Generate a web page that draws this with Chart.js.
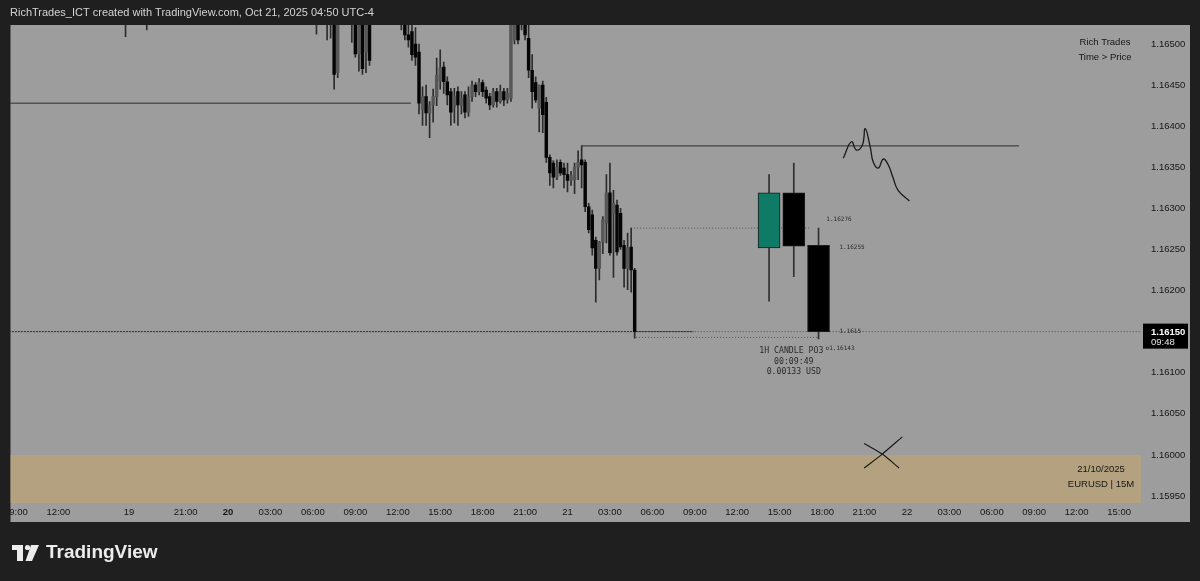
<!DOCTYPE html>
<html><head><meta charset="utf-8">
<script src="https://cdn.jsdelivr.net/npm/chart.js@4.4.1/dist/chart.umd.min.js"></script>
<style>html,body{margin:0;padding:0;background:#1f1f1f;overflow:hidden}canvas{display:block}</style>
</head><body>
<canvas id="c" width="1200" height="581"></canvas>
<script>
// ---- 15-minute EURUSD candles (bar index: 0 = Mon 20 Oct 00:00) ----
const barIdx = [-29,-23,25,28,29,30,31,35,36,37,38,39,40,49,50,51,52,53,54,55,56,57,58,59,60,61,62,63,64,65,66,67,68,69,70,71,72,73,74,75,76,77,78,79,80,81,82,83,84,85,86,87,88,89,90,91,92,93,94,95,96,97,98,99,100,101,102,103,104,105,106,107,108,109,110,111,112,113,114,115];
const opens  = [1.16560,1.16545,1.16560,1.16560,1.16540,1.16540,1.16465,1.16540,1.16530,1.16488,1.16525,1.16490,1.16530,1.16545,1.16530,1.16511,1.16515,1.16500,1.16490,1.16420,1.16436,1.16416,1.16426,1.16436,1.16455,1.16472,1.16454,1.16442,1.16423,1.16442,1.16426,1.16438,1.16417,1.16436,1.16450,1.16442,1.16453,1.16444,1.16436,1.16426,1.16442,1.16430,1.16442,1.16432,1.16434,1.16505,1.16540,1.16530,1.16545,1.16507,1.16468,1.16453,1.16422,1.16450,1.16429,1.16362,1.16355,1.16338,1.16356,1.16349,1.16341,1.16334,1.16335,1.16350,1.16359,1.16356,1.16302,1.16292,1.16261,1.16227,1.16259,1.16282,1.16319,1.16294,1.16304,1.16294,1.16255,1.16227,1.16253,1.16225];
const highs  = [1.16580,1.16570,1.16590,1.16580,1.16560,1.16550,1.16545,1.16560,1.16545,1.16535,1.16540,1.16545,1.16540,1.16560,1.16545,1.16530,1.16535,1.16520,1.16500,1.16448,1.16450,1.16430,1.16445,1.16483,1.16493,1.16478,1.16460,1.16446,1.16446,1.16448,1.16442,1.16442,1.16448,1.16455,1.16453,1.16458,1.16456,1.16448,1.16440,1.16446,1.16446,1.16450,1.16446,1.16446,1.16540,1.16560,1.16560,1.16550,1.16560,1.16525,1.16487,1.16460,1.16450,1.16455,1.16435,1.16365,1.16358,1.16359,1.16359,1.16355,1.16355,1.16345,1.16355,1.16370,1.16376,1.16359,1.16306,1.16298,1.16265,1.16260,1.16290,1.16341,1.16355,1.16322,1.16310,1.16300,1.16261,1.16270,1.16276,1.16227];
const lows   = [1.16509,1.16517,1.16512,1.16505,1.16507,1.16445,1.16459,1.16502,1.16484,1.16467,1.16463,1.16465,1.16474,1.16517,1.16505,1.16496,1.16480,1.16474,1.16415,1.16401,1.16401,1.16386,1.16405,1.16425,1.16445,1.16440,1.16426,1.16401,1.16404,1.16401,1.16415,1.16410,1.16412,1.16430,1.16436,1.16438,1.16436,1.16428,1.16420,1.16423,1.16423,1.16428,1.16425,1.16428,1.16430,1.16500,1.16500,1.16517,1.16505,1.16459,1.16422,1.16429,1.16393,1.16392,1.16356,1.16328,1.16325,1.16335,1.16340,1.16325,1.16320,1.16328,1.16318,1.16335,1.16325,1.16296,1.16270,1.16243,1.16186,1.16213,1.16245,1.16258,1.16243,1.16216,1.16243,1.16250,1.16204,1.16201,1.16198,1.16142];
const closes = [1.16545,1.16555,1.16545,1.16540,1.16530,1.16463,1.16530,1.16530,1.16488,1.16525,1.16470,1.16530,1.16480,1.16530,1.16511,1.16505,1.16487,1.16484,1.16428,1.16436,1.16416,1.16426,1.16436,1.16462,1.16471,1.16454,1.16438,1.16417,1.16436,1.16426,1.16434,1.16417,1.16436,1.16450,1.16442,1.16453,1.16442,1.16434,1.16426,1.16442,1.16430,1.16442,1.16432,1.16440,1.16525,1.16540,1.16505,1.16540,1.16511,1.16468,1.16442,1.16432,1.16450,1.16414,1.16362,1.16343,1.16338,1.16350,1.16343,1.16341,1.16334,1.16340,1.16350,1.16356,1.16353,1.16302,1.16274,1.16252,1.16227,1.16259,1.16286,1.16319,1.16246,1.16306,1.16247,1.16253,1.16227,1.16252,1.16225,1.16150];

// ---- drawn 1H "PO3" candles ----
const po3Idx   = [153,160,167];
const po3Open  = [1.16252,1.16319,1.16255];
const po3High  = [1.16341,1.16355,1.16276];
const po3Low   = [1.16187,1.16217,1.16141];
const po3Close = [1.16319,1.16254,1.16150];

// ---- axis ticks ----
const timeTickIdx = [-60,-48,-28,-12,0,12,24,36,48,60,72,84,96,108,120,132,144,156,168,180,192,204,216,228,240,252];
const timeTickLabels = ["09:00","12:00","19","21:00","20","03:00","06:00","09:00","12:00","15:00","18:00","21:00","21","03:00","06:00","09:00","12:00","15:00","18:00","21:00","22","03:00","06:00","09:00","12:00","15:00"];
const priceTicks = [1.1595,1.1600,1.1605,1.1610,1.1615,1.1620,1.1625,1.1630,1.1635,1.1640,1.1645,1.1650];

// ---- horizontal levels ----
const levelPrice = [1.16428, 1.16376, 1.16150, 1.16150, 1.16276, 1.16143];
const levelStart = [-62, 100, -62, 115, 114, 115.4];
const levelEnd   = [51.7, 223.7, 131.6, 259, 164.7, 167];

// ---- freehand projection curve ----
const curveIdx   = [174.0,176.3,177.7,179.4,180.2,181.6,182.5,183.9,185.3,186.7,188.1,189.5,192.7];
const curvePrice = [1.16361,1.16381,1.16371,1.16377,1.16397,1.16375,1.16356,1.16349,1.16360,1.16353,1.16337,1.16322,1.16309];

// ---- X mark ----
const crossAIdx = [179.9,185.0,189.8], crossAPrice = [1.16014,1.16001,1.15984];
const crossBIdx = [190.7,185.0,179.9], crossBPrice = [1.16022,1.16001,1.15984];

// ---- annotation texts ----
const annoText  = ["1.16276","1.16255","1.1615","o1.16143","1H CANDLE PO3","00:09:49","0.00133 USD"];
const annoIdx   = [169.2,172.9,172.9,169.0,159.3,160.0,160.0];
const annoPrice = [1.16287,1.16253,1.16150,1.16130,1.16126,1.16113,1.16101];
const annoAlign = ["left","left","left","left","center","center","center"];
const annoSize  = [6,6,6,6,8.2,8.2,8.2];

const bandTop = 1.16000;
const lastPrice = 1.16150;
const countdown = "09:48";
const xMin = -61.6, xMax = 258.2, yMin = 1.159415, yMax = 1.165231;

const OUTER = '#1f1f1f', PANE = '#9d9d9d', BAND = '#b4a180', TXT = '#161616';
const FONT = '"Liberation Sans", Arial, sans-serif';
const MONO = '"DejaVu Sans Mono", "Liberation Mono", monospace';

const wickData = barIdx.map((x,i)=>({x, y:[lows[i], highs[i]]}));
const bodyData = barIdx.map((x,i)=>({x, y:[Math.min(opens[i],closes[i]), Math.max(opens[i],closes[i])]}));
const bodyColors = barIdx.map((x,i)=> closes[i] >= opens[i] ? '#575757' : '#050505');
const po3Wick = po3Idx.map((x,i)=>({x, y:[po3Low[i], po3High[i]]}));
const po3Body = po3Idx.map((x,i)=>({x, y:[Math.min(po3Open[i],po3Close[i]), Math.max(po3Open[i],po3Close[i])]}));
const po3Colors = po3Idx.map((x,i)=> po3Close[i] >= po3Open[i] ? '#0f7a65' : '#000000');

const levelStyle = [
  {c:'#2e2e2e', d:[], w:1},
  {c:'#2e2e2e', d:[], w:1},
  {c:'#2a2a2a', d:[2,1], w:1},
  {c:'#4a4a4a', d:[1,2], w:1},
  {c:'#555555', d:[1,2], w:1},
  {c:'#555555', d:[1,2], w:1}
];
const levelSets = levelPrice.map((p,i)=>({
  type:'line', data:[{x:levelStart[i], y:p},{x:levelEnd[i], y:p}],
  borderColor: levelStyle[i].c, borderWidth: levelStyle[i].w, borderDash: levelStyle[i].d,
  pointRadius:0, order:5
}));

const overlay = {
  id:'overlay',
  beforeDraw(chart){
    const {ctx, chartArea:a, scales:{x, y}} = chart;
    ctx.save();
    ctx.fillStyle = OUTER; ctx.fillRect(0,0,chart.width,chart.height);
    ctx.fillStyle = PANE; ctx.fillRect(a.left, a.top, y.right - a.left, x.bottom - a.top);
    ctx.restore();
  },
  beforeDatasetsDraw(chart){
    const {ctx, chartArea:a, scales:{y}} = chart;
    const t = Math.round(y.getPixelForValue(bandTop));
    ctx.save();
    ctx.fillStyle = BAND; ctx.fillRect(a.left, t, a.right - a.left, a.bottom - t);
    ctx.restore();
  },
  afterDatasetsDraw(chart){
    const {ctx, chartArea:a, scales:{x, y}} = chart;
    ctx.save();
    ctx.fillStyle = '#2a2a2a'; ctx.textBaseline = 'middle';
    annoText.forEach((s,i)=>{
      ctx.font = annoSize[i] + 'px ' + MONO;
      ctx.textAlign = annoAlign[i];
      ctx.fillText(s, x.getPixelForValue(annoIdx[i]), y.getPixelForValue(annoPrice[i]));
    });
    ctx.fillStyle = TXT; ctx.textAlign = 'center';
    ctx.font = '9.5px ' + FONT;
    ctx.fillText('Rich Trades', a.right - 36, a.top + 17);
    ctx.fillText('Time > Price', a.right - 36, a.top + 32);
    const bb = a.bottom;
    ctx.fillText('21/10/2025', a.right - 40, bb - 34);
    ctx.fillText('EURUSD | 15M', a.right - 40, bb - 19);
    ctx.restore();
  },
  afterDraw(chart){
    const {ctx, chartArea:a, scales:{x, y}} = chart;
    ctx.save();
    ctx.fillStyle = OUTER;
    ctx.fillRect(0, a.top, a.left, x.bottom - a.top);
    // header
    ctx.fillStyle = '#d4d4d4'; ctx.font = '11px ' + FONT; ctx.textBaseline = 'middle'; ctx.textAlign = 'left';
    ctx.fillText('RichTrades_ICT created with TradingView.com, Oct 21, 2025 04:50 UTC-4', 10, 13);
    // price label on axis
    const py = y.getPixelForValue(lastPrice);
    ctx.fillStyle = '#000'; ctx.fillRect(y.left + 2, py - 8, y.right - y.left - 4, 25);
    ctx.fillStyle = '#ffffff'; ctx.font = 'bold 9.5px ' + FONT;
    ctx.fillText(lastPrice.toFixed(5), y.left + 10, py + 1);
    ctx.fillStyle = '#e6e6e6'; ctx.font = '9.5px ' + FONT;
    ctx.fillText(countdown, y.left + 10, py + 11);
    // TradingView logo
    ctx.fillStyle = '#ececec';
    ctx.fillRect(12, 545, 11, 5);
    ctx.fillRect(17, 545, 6, 16);
    ctx.beginPath(); ctx.arc(27.5, 547.5, 2.6, 0, Math.PI*2); ctx.fill();
    ctx.beginPath(); ctx.moveTo(31,545); ctx.lineTo(39,545); ctx.lineTo(32,561); ctx.lineTo(25.5,561); ctx.closePath(); ctx.fill();
    ctx.font = 'bold 19px ' + FONT; ctx.textBaseline = 'middle';
    ctx.fillText('TradingView', 46, 553);
    ctx.restore();
  }
};

new Chart(document.getElementById('c'), {
  type:'bar',
  data:{
    datasets:[
      {data: bodyData, backgroundColor: bodyColors, barThickness: 2.8, grouped:false, clip:0, order:1},
      {data: wickData, backgroundColor: '#2c2c2c', barThickness: 1, grouped:false, clip:0, order:2},
      {data: po3Body, backgroundColor: po3Colors, borderColor:'#1a1a1a', borderWidth:1, borderSkipped:false, barThickness: 22, grouped:false, clip:0, order:1},
      {data: po3Wick, backgroundColor: '#303030', barThickness: 1, grouped:false, clip:0, order:2},
      ...levelSets,
      {type:'line', data: curveIdx.map((v,i)=>({x:v, y:curvePrice[i]})), borderColor:'#1a1a1a', borderWidth:1.3, tension:0.45, pointRadius:0, order:0},
      {type:'line', data: crossAIdx.map((v,i)=>({x:v, y:crossAPrice[i]})), borderColor:'#1a1a1a', borderWidth:1.2, tension:0.3, pointRadius:0, order:0},
      {type:'line', data: crossBIdx.map((v,i)=>({x:v, y:crossBPrice[i]})), borderColor:'#1a1a1a', borderWidth:1.2, tension:0.3, pointRadius:0, order:0}
    ]
  },
  options:{
    responsive:false, animation:false, devicePixelRatio:1,
    layout:{padding:{left:9, top:25, right:10, bottom:59}},
    plugins:{legend:{display:false}, tooltip:{enabled:false}},
    scales:{
      x:{
        type:'linear', min:xMin, max:xMax, offset:false,
        grid:{display:false, drawTicks:false}, border:{display:false},
        afterBuildTicks(s){ s.ticks = timeTickIdx.map(v=>({value:v})); },
        afterFit(s){ s.height = 19; },
        ticks:{
          autoSkip:false, maxRotation:0, minRotation:0, padding:4, color:TXT,
          font:(ctx)=>({family:FONT, size:9.5, weight: (ctx.tick && ctx.tick.value === 0) ? 'bold' : 'normal'}),
          callback:(v)=>{ const k = timeTickIdx.indexOf(v); return k >= 0 ? timeTickLabels[k] : ''; }
        }
      },
      y:{
        type:'linear', position:'right', min:yMin, max:yMax,
        grid:{display:false, drawTicks:false}, border:{display:false},
        afterBuildTicks(s){ s.ticks = priceTicks.map(v=>({value:v})); },
        afterFit(s){ s.width = 49; },
        ticks:{padding:10, color:TXT, font:{family:FONT, size:9.5}, callback:(v)=>Number(v).toFixed(5)}
      }
    }
  },
  plugins:[overlay]
});
</script>
</body></html>
